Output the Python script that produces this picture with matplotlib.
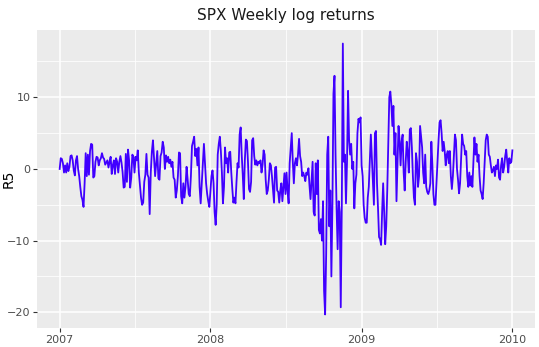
import matplotlib

matplotlib.use("Agg")
import matplotlib.pyplot as plt
import matplotlib.dates as mdates
import pandas as pd

# 5-day (weekly) log returns of SPX, in %
r5_2007 = [
    0.0, 1.5, 1.4, 0.8, -0.5, 0.5, -0.5, 0.8, -0.3, 0.3, 1.8, 1.9, 1.2, -0.2, -0.9,
    1.2, 1.8, 0.0, -1.0, -2.5, -3.8, -4.3, -5.3, -2.0, 2.2, -1.0, 2.0, -0.8, 2.5, 3.5,
    3.4, -1.2, -1.0, 1.0, 1.7, 1.6, 0.5, 1.2, 1.5, 2.2, 1.6, 1.4, 0.6, 0.9, 1.2,
    0.2, 1.0, 1.7, -0.7, 0.5, 1.2, -0.7, 1.5, 1.0, -0.5, 1.0, 1.8, 0.9, -0.4,
    -2.6, -2.5, 2.1, -1.8, 2.7, 1.2, -2.6, -1.2, 2.0, 1.7, -0.5, 1.7, 1.2, 2.6, -0.5,
    -2.2, -4.0, -5.0, -4.7, -1.8, -0.8, 2.1, -0.8, -1.2, -6.3, -0.5, 2.4, 4.0, 1.5, -1.0,
    0.8, 2.5, -1.3, -1.5, 1.8, 2.3, 3.8, 3.0, 0.0, 1.9, 1.0, 1.7, 0.8, 1.3, 0.3,
    1.0, -1.2, -1.5, -4.0, -3.0, -1.0, 2.3, 2.2, -3.8, -4.8, -2.0, -4.0, -2.5, 0.3, -1.5,
    -3.5, -3.8, -1.0, 3.2, 3.8, 4.5, 1.8, 2.8, 0.5, 3.0, -2.5, -4.8, -2.0, 1.0, 3.5,
    0.8, -2.0, -3.5, -4.5, -5.3,
]
r5_2008 = [
    -3.0, -1.0, -0.2, -2.0, -6.0, -7.8, -5.0, 2.0, 3.5, 4.5, 2.5, -0.5, -4.8, -2.5, 3.0,
    0.8, 1.5, -0.5, 2.3, 2.4, -0.5, -2.8, -4.7, -4.0, -4.8, -1.8, 0.8, 0.2, 4.8, 5.8,
    2.0, -0.8, -4.2, 1.2, 4.1, 3.9, 1.0, -2.8, -3.2, -1.8, 4.0, 4.3, 1.8, 0.6, 1.2,
    0.5, 1.0, 0.8, 1.2, -0.5, 0.6, 2.6, 2.0, -1.5, -3.5, -3.0, -1.5, 0.8, 0.5, -1.0,
    -2.8, -4.7, 0.2, 0.3, -3.0, -3.2, -4.7, -3.0, -2.0, -4.5, -2.5, -0.6, -3.5, -0.5, -3.0,
    -4.8, 0.8, 3.0, 5.0, 1.0, -2.0, 0.8, 1.5, 0.5, 2.0, 4.2, 1.8, 1.0, -1.0, -0.5,
    -1.0, -1.7, -0.5, -0.8, 0.1, -2.3, -4.2, -1.5, 1.0, -6.0, -6.5, 0.8, -3.5, 1.2, -8.5,
    -9.0, -7.0, -10.0, -4.5, -17.0, -20.3, -12.0, 2.0, 4.5, -8.0, -3.0, -15.0, -5.0, 10.5, 13.0,
    2.0, -5.5, -11.2, -4.5, -6.0, -19.3, -5.0, 17.5, 1.0, 2.0, -4.8, 1.0, 10.9, 4.0, 2.0,
    3.5, 0.0, 1.0, -5.5, -2.0, -0.8, 5.0, 7.0, 6.5, 7.2,
]
r5_2009 = [
    0.5, -1.0, -5.0, -6.8, -7.5, -7.5, -4.0, -2.5, 1.0, 4.8, 1.5, -1.5, -5.0, 5.0, 5.3,
    -2.0, -5.5, -9.5, -9.8, -10.6, -6.0, -2.0, -6.0, -10.5, -8.0, -3.0, 3.5, 10.0, 10.8, 9.0,
    6.0, 8.8, 2.0, 5.0, -4.5, 1.0, 6.0, 4.0, 0.5, 3.8, 4.8, -0.5, -3.0, 1.0, 3.8,
    2.2, -0.5, 5.5, 5.7, 3.0, -1.0, -4.0, -5.0, 2.2, 1.0, -2.5, -1.0, 6.0, 4.5, 3.0,
    -0.5, -2.0, 2.0, -2.5, -3.2, -3.5, -3.0, -2.0, 3.8, 0.5, -3.5, -5.0, -5.0, -2.0, 1.0,
    4.0, 6.5, 6.8, 5.0, 2.5, 3.8, 2.5, 0.5, 2.0, 2.5, 0.8, 2.5, -1.0, -2.8, -1.0,
    2.0, 4.8, 4.0, 0.0, -1.5, -3.4, -2.0, 1.5, 4.8, 3.5, 3.2, 2.0, 2.5, -1.0, -2.5,
    -0.5, -2.3, -1.0, -2.5, 1.0, 4.4, 2.0, 3.5, 1.0, 2.0, -1.0, -3.0, -3.5, -4.2, -2.0,
    1.0, 4.0, 4.8, 4.5, 2.0, 1.7, 0.5, -0.5, -0.2, 0.3, -1.0, 0.5, 0.0, 1.3, -1.2,
    -1.5, 0.5, 1.5, -0.5, 0.3, 1.8, 2.7, 1.0, -0.5, 1.5, 0.8, 1.0, 2.6,
]
YEARS = [2007, 2008, 2009]
Y_TICKS = [-20, -10, 0, 10]
Y_MINOR = [-15, -5, 5, 15]

LINE = "#4000ff"
PANEL = "#ebebeb"
TXT = "#4d4d4d"

# trading dates spread through each calendar year
dates, vals = [], []
for yr, series in zip(YEARS, (r5_2007, r5_2008, r5_2009)):
    d = pd.date_range(f"{yr}-01-01", f"{yr + 1}-01-01", periods=len(series) + 1)[:-1]
    if yr == YEARS[-1]:
        d = pd.date_range(f"{yr}-01-01", f"{yr + 1}-01-01", periods=len(series))
    dates.extend(d)
    vals.extend(series)
df = pd.DataFrame({"date": dates, "R5": vals})

fig = plt.figure(figsize=(5.39, 3.47), dpi=100, facecolor="white")
ax = fig.add_axes([0.0687, 0.0548, 0.9239, 0.8587])
ax.set_facecolor(PANEL)

ax.plot(df["date"], df["R5"], color=LINE, linewidth=1.3, zorder=3)

# ggplot-style 5% expansion
x0, x1 = mdates.date2num(df["date"].min()), mdates.date2num(df["date"].max())
ax.set_xlim(x0 - 0.05 * (x1 - x0), x1 + 0.05 * (x1 - x0))
lo, hi = df["R5"].min(), df["R5"].max()
ax.set_ylim(lo - 0.05 * (hi - lo), hi + 0.05 * (hi - lo))

year_ticks = [pd.Timestamp(f"{y}-01-01") for y in YEARS + [YEARS[-1] + 1]]
mid_ticks = [pd.Timestamp(f"{y}-07-02") for y in YEARS]
ax.set_xticks(year_ticks)
ax.set_xticklabels([str(t.year) for t in year_ticks])
ax.set_xticks(mid_ticks, minor=True)
ax.set_yticks(Y_TICKS)
ax.set_yticks(Y_MINOR, minor=True)

ax.grid(which="major", color="white", linewidth=1.1, zorder=0)
ax.grid(which="minor", color="white", linewidth=0.55, zorder=0)
ax.set_axisbelow(True)
ax.tick_params(which="major", length=2.75, width=0.8, color="#333333",
               labelsize=8, labelcolor=TXT, pad=2)
ax.tick_params(which="minor", length=0)
for s in ax.spines.values():
    s.set_visible(False)

fig.text(9 / 539, 0.5 * (0.0548 * 2 + 0.8587), "R5", rotation=90, fontsize=10,
         color="black", ha="center", va="center")
ax.set_title("SPX Weekly log returns", fontsize=11, color="#1a1a1a", pad=7)

fig.savefig("out.png", dpi=100, facecolor="white")
